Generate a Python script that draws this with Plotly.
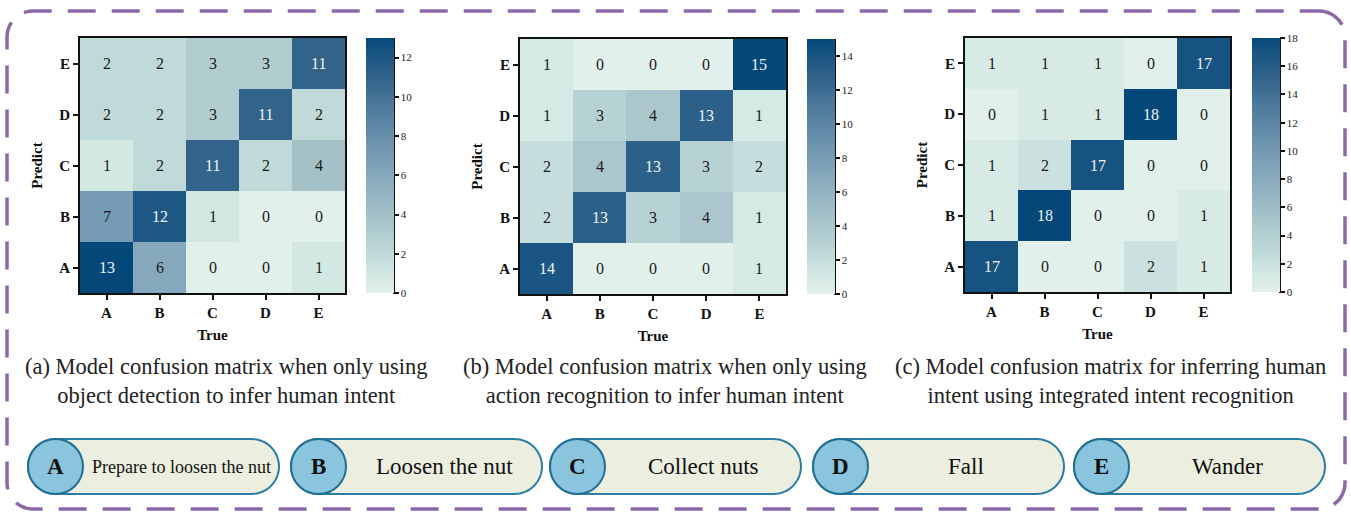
import math
import plotly.graph_objects as go

W, H = 1351, 513

# Intent classes
classes = ["A", "B", "C", "D", "E"]
class_names = ["Prepare to loosen the nut", "Loosen the nut", "Collect nuts", "Fall", "Wander"]

# Confusion matrices: rows = Predict (A..E, bottom to top), cols = True (A..E)
cm_object = [
    [13, 6, 0, 0, 1],
    [7, 12, 1, 0, 0],
    [1, 2, 11, 2, 4],
    [2, 2, 3, 11, 2],
    [2, 2, 3, 3, 11],
]
cm_action = [
    [14, 0, 0, 0, 1],
    [2, 13, 3, 4, 1],
    [2, 4, 13, 3, 2],
    [1, 3, 4, 13, 1],
    [1, 0, 0, 0, 15],
]
cm_fused = [
    [17, 0, 0, 2, 1],
    [1, 18, 0, 0, 1],
    [1, 2, 17, 0, 0],
    [0, 1, 1, 18, 0],
    [1, 1, 1, 0, 17],
]
zmax_list = [13, 15, 18]

captions = [
    "(a) Model confusion matrix when only using<br>object detection to infer human intent",
    "(b) Model confusion matrix when only using<br>action recognition to infer human intent",
    "(c) Model confusion matrix for inferring human<br>intent using integrated intent recognition",
]

SERIF = "Liberation Serif"

colorscale = [
    [0.00, "#e2f0ec"],
    [0.08, "#d2e7e3"],
    [0.16, "#bed8d8"],
    [0.30, "#a5c2c9"],
    [0.45, "#88aabd"],
    [0.60, "#6a91ad"],
    [0.75, "#4a7699"],
    [0.85, "#30628a"],
    [0.93, "#1c5683"],
    [1.00, "#04487a"],
]


def fx(px):
    return px / W


def fy(py):
    return 1 - py / H


# pixel geometry of each panel: plot area (x0, x1, y_top, y_bottom) and colorbar left edge
panels = [
    dict(x0=80, x1=345, yt=38, yb=293, cb=366, cap=226),
    dict(x0=520, x1=786, yt=39, yb=294, cb=807, cap=665),
    dict(x0=965, x1=1230, yt=38, yb=292, cb=1252, cap=1110),
]
matrices = [cm_object, cm_action, cm_fused]

fig = go.Figure()
shapes = []
annotations = []

for i, (p, z, zmax) in enumerate(zip(panels, matrices, zmax_list)):
    n = i + 1
    xa = "x" if n == 1 else f"x{n}"
    ya = "y" if n == 1 else f"y{n}"
    cb_len = p["yb"] - p["yt"]
    fig.add_trace(go.Heatmap(
        z=z, x=classes, y=classes,
        zmin=0, zmax=zmax,
        colorscale=colorscale,
        hoverinfo="skip",
        xaxis=xa, yaxis=ya,
        colorbar=dict(
            x=fx(p["cb"]), xanchor="left", xpad=0,
            y=fy((p["yt"] + p["yb"]) / 2), yanchor="middle", ypad=0,
            thickness=28, thicknessmode="pixels",
            len=cb_len, lenmode="pixels",
            outlinewidth=0,
            tickmode="array", tickvals=list(range(0, zmax + 1, 2)),
            ticks="outside", ticklen=5, tickwidth=2, tickcolor="#111",
            tickfont=dict(family=SERIF, size=11, color="#222"),
        ),
    ))
    # cell counts
    for r, row in enumerate(z):
        for c, v in enumerate(row):
            annotations.append(dict(
                x=classes[c], y=classes[r], xref=xa, yref=ya, text=str(v),
                showarrow=False,
                font=dict(family=SERIF, size=16,
                          color="#eef2f5" if v / zmax > 0.6 else "#1a1a1a")))
    axis_common = dict(
        showline=True, mirror=True, linecolor="#111", linewidth=2,
        ticks="outside", ticklen=5, tickwidth=2, tickcolor="#111",
        tickfont=dict(family=SERIF, size=15, color="#111", weight="bold"),
        showgrid=False, zeroline=False, fixedrange=True,
        title_font=dict(family=SERIF, size=15, color="#111", weight="bold"),
    )
    fig.layout[f"xaxis{'' if n == 1 else n}"] = dict(
        domain=[fx(p["x0"]), fx(p["x1"])], anchor=ya,
        title=dict(text="True", standoff=9), **axis_common)
    fig.layout[f"yaxis{'' if n == 1 else n}"] = dict(
        domain=[fy(p["yb"]), fy(p["yt"])], anchor=xa,
        title=dict(text="Predict", standoff=13), **axis_common)

    # right-hand axis line of the colorbar
    shapes.append(dict(type="line", xref="paper", yref="paper",
                       x0=fx(p["cb"] + 28), x1=fx(p["cb"] + 28),
                       y0=fy(p["yb"] + 1), y1=fy(p["yt"]),
                       line=dict(color="#111", width=2)))
    # caption
    annotations.append(dict(text=captions[i], xref="paper", yref="paper",
                            x=fx(p["cap"]), y=fy(381), xanchor="center", yanchor="middle",
                            showarrow=False, align="center",
                            font=dict(family=SERIF, size=22.5, color="#222")))


def rounded_path(x0, y0, x1, y1, r, steps=12):
    """Closed rounded-rectangle path in paper coordinates from pixel bounds."""
    pts = []
    corners = [
        (x1 - r, y0 + r, -90, 0),
        (x1 - r, y1 - r, 0, 90),
        (x0 + r, y1 - r, 90, 180),
        (x0 + r, y0 + r, 180, 270),
    ]
    for cx, cy, a0, a1 in corners:
        for k in range(steps + 1):
            a = math.radians(a0 + (a1 - a0) * k / steps)
            pts.append((cx + r * math.cos(a), cy + r * math.sin(a)))
    d = "M " + " L ".join(f"{fx(px):.5f},{fy(py):.5f}" for px, py in pts) + " Z"
    return d


# dashed outer frame
shapes.append(dict(type="path", xref="paper", yref="paper",
                   path=rounded_path(7, 11, 1345, 509, 26),
                   line=dict(color="#8a69a8", width=3.5, dash="28px,16px"),
                   fillcolor="rgba(0,0,0,0)", layer="below"))

# legend pills
pill_left = [28, 291, 550, 813, 1074]
pill_w = 251
py0, py1 = 439, 494
rad = (py1 - py0) / 2
for k, (letter, name) in enumerate(zip(classes, class_names)):
    x0 = pill_left[k]
    x1 = x0 + pill_w
    shapes.append(dict(type="path", xref="paper", yref="paper",
                       path=rounded_path(x0, py0, x1, py1, rad, steps=16),
                       line=dict(color="#2a7ea6", width=2),
                       fillcolor="#eceedf"))
    shapes.append(dict(type="circle", xref="paper", yref="paper",
                       x0=fx(x0), x1=fx(x0 + 2 * rad), y0=fy(py1), y1=fy(py0),
                       line=dict(color="#1f6f95", width=2),
                       fillcolor="#8bc4dd"))
    annotations.append(dict(text=f"<b>{letter}</b>", xref="paper", yref="paper",
                            x=fx(x0 + rad), y=fy((py0 + py1) / 2),
                            xanchor="center", yanchor="middle", showarrow=False,
                            font=dict(family=SERIF, size=23, color="#111")))
    size = 18 if len(name) > 20 else 23
    annotations.append(dict(text=name, xref="paper", yref="paper",
                            x=fx((x0 + 2 * rad + x1) / 2), y=fy((py0 + py1) / 2),
                            xanchor="center", yanchor="middle", showarrow=False,
                            font=dict(family=SERIF, size=size, color="#111")))

fig.update_layout(
    width=W, height=H,
    margin=dict(l=0, r=0, t=0, b=0),
    paper_bgcolor="white", plot_bgcolor="white",
    showlegend=False,
    shapes=shapes, annotations=annotations,
)

fig.write_html("out.html", config={"displayModeBar": False})
